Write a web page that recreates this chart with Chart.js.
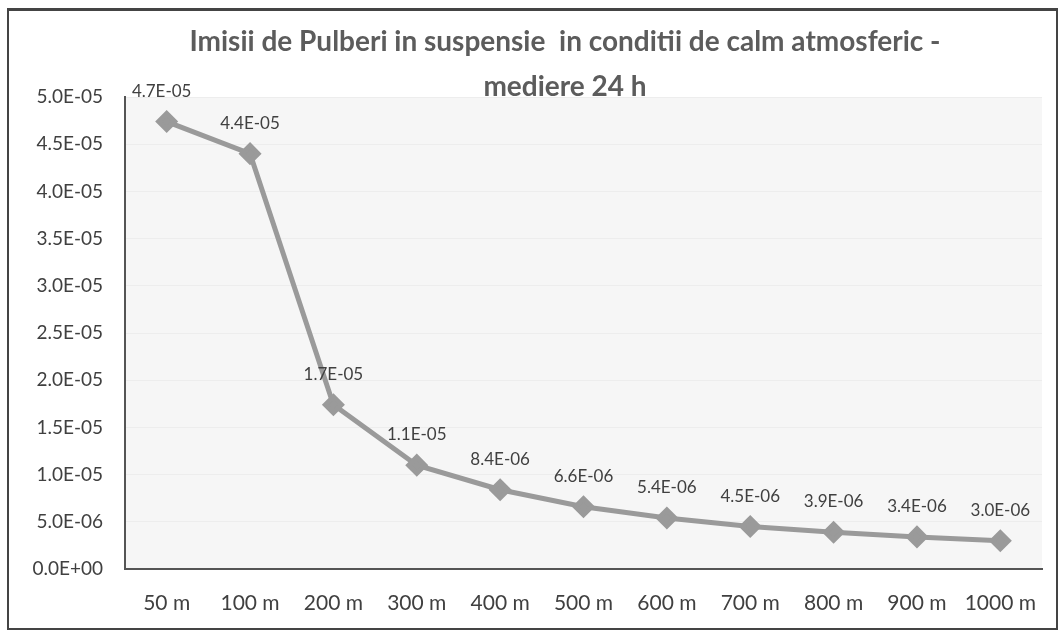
<!DOCTYPE html>
<html>
<head>
<meta charset="utf-8">
<script src="https://cdn.jsdelivr.net/npm/chart.js@4"></script>
<style>
  html,body{margin:0;padding:0;background:#fff;}
  #wrap{position:relative;width:1062px;height:643px;}
  #chart{position:absolute;left:0;top:0;}
  #box{position:absolute;left:7px;top:8px;width:1051px;height:622px;border:2px solid #444;border-top-width:3px;box-sizing:border-box;}
  #title{position:absolute;left:100px;width:930px;top:18px;text-align:center;font-family:Lato,"Open Sans",sans-serif;font-weight:bold;font-size:28px;line-height:45px;color:#5c5c5c;}
</style>
</head>
<body>
<div id="wrap">
  <div id="box"></div>
  <canvas id="chart" width="1062" height="643"></canvas>
  <div id="title">Imisii de Pulberi in suspensie&nbsp; in conditii de calm atmosferic -<br>mediere 24 h</div>
</div>
<script>
const categories = ["50 m","100 m","200 m","300 m","400 m","500 m","600 m","700 m","800 m","900 m","1000 m"];
const values = [4.74e-5, 4.4e-5, 1.74e-5, 1.1e-5, 8.4e-6, 6.6e-6, 5.4e-6, 4.5e-6, 3.9e-6, 3.4e-6, 3.0e-6];
const pointLabels = ["4.7E-05","4.4E-05","1.7E-05","1.1E-05","8.4E-06","6.6E-06","5.4E-06","4.5E-06","3.9E-06","3.4E-06","3.0E-06"];

const FONT = "Lato, 'Open Sans', sans-serif";

function sci(v){
  const s = Number(v).toExponential(1).split("e");
  const e = Number(s[1]);
  return s[0] + "E" + (e<0?"-":"+") + String(Math.abs(e)).padStart(2,"0");
}

// light grey plot area
const plotBg = {
  id:"plotBg",
  beforeDraw(c){
    const a = c.chartArea, ctx = c.ctx;
    ctx.save();
    ctx.fillStyle = "#f6f6f6";
    ctx.fillRect(a.left, a.top, a.right-a.left, a.bottom-a.top);
    ctx.restore();
  }
};

// value labels above the points
const valueLabels = {
  id:"valueLabels",
  afterDatasetsDraw(c){
    const ctx = c.ctx;
    const pts = c.getDatasetMeta(0).data;
    ctx.save();
    ctx.font = "17px " + FONT;
    ctx.fillStyle = "#404040";
    ctx.textAlign = "center";
    ctx.textBaseline = "alphabetic";
    pts.forEach((p,i)=>{
      let x = p.x;
      if(i===0) x -= 5;
      ctx.fillText(pointLabels[i], x, p.y - 25);
    });
    ctx.restore();
  }
};

new Chart(document.getElementById("chart"), {
  type:"line",
  data:{
    labels:categories,
    datasets:[{
      data:values,
      borderColor:"#9a9a9a",
      backgroundColor:"#9a9a9a",
      borderWidth:5,
      pointStyle:"rectRot",
      pointRadius:8,
      pointHoverRadius:8,
      tension:0
    }]
  },
  options:{
    responsive:false,
    animation:false,
    layout:{padding:{top:97,left:0,right:20,bottom:0}},
    plugins:{legend:{display:false},title:{display:false},tooltip:{enabled:false}},
    scales:{
      x:{
        offset:true,
        afterFit(s){ s.height = 74; },
        grid:{display:false, drawTicks:false},
        border:{color:"#555", width:2},
        ticks:{color:"#404040", padding:22, font:{family:FONT, size:21}}
      },
      y:{
        min:0, max:5e-5,
        afterFit(s){ s.width = 125; },
        grid:{color:"rgba(0,0,0,0.035)", drawTicks:false},
        border:{color:"#555", width:2},
        ticks:{stepSize:5e-6, color:"#404040", padding:22, callback:v=>sci(v), font:{family:FONT, size:19}}
      }
    }
  },
  plugins:[plotBg, valueLabels]
});
</script>
</body>
</html>
